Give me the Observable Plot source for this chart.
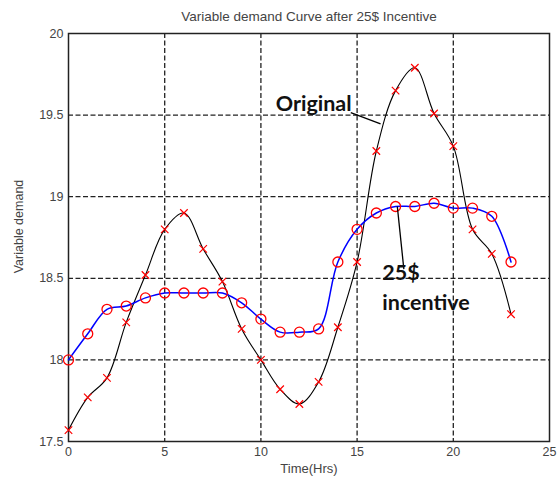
<!DOCTYPE html>
<html>
<head>
<meta charset="utf-8">
<script src="https://cdn.jsdelivr.net/npm/d3@7"></script>
<script src="https://cdn.jsdelivr.net/npm/@observablehq/plot@0.6"></script>
<style>
  html, body { margin: 0; padding: 0; background: #fff; }
  #chart svg { display: block; }
</style>
</head>
<body>
<div id="chart"></div>
<script>
const hours = d3.range(0, 24);
const originalDemand = [17.57, 17.77, 17.89, 18.23, 18.52, 18.80, 18.90, 18.68, 18.48, 18.19,
  18.00, 17.82, 17.73, 17.865, 18.20, 18.60, 19.28, 19.65, 19.79, 19.51,
  19.31, 18.80, 18.65, 18.28];
const incentiveDemand = [18.00, 18.16, 18.31, 18.33, 18.38, 18.41, 18.41, 18.41, 18.41, 18.35,
  18.25, 18.17, 18.17, 18.19, 18.60, 18.80, 18.90, 18.94, 18.94, 18.96,
  18.93, 18.93, 18.88, 18.60];
const xTicks = [0, 5, 10, 15, 20, 25];
const yTicks = [17.5, 18, 18.5, 19, 19.5, 20];
const titleText = "Variable demand Curve after 25$ Incentive";
const xLabel = "Time(Hrs)";
const yLabel = "Variable demand";
const annotationLabels = ["Original", "25$", "incentive"];
const annotationX = [10.77, 16.31, 16.31];
const annotationY = [19.565, 18.53, 18.35];
const leaderFromX = [14.67, 17.09];
const leaderFromY = [19.515, 18.94];
const leaderToX = [16.22, 17.43];
const leaderToY = [19.446, 18.556];

const orig = hours.map((h, i) => ({h, v: originalDemand[i]}));
const inc = hours.map((h, i) => ({h, v: incentiveDemand[i]}));
const notes = annotationLabels.map((t, i) => ({t, x: annotationX[i], y: annotationY[i]}));
const leaders = leaderFromX.map((x1, i) => ({x1, y1: leaderFromY[i], x2: leaderToX[i], y2: leaderToY[i]}));

const chart = Plot.plot({
  width: 557,
  height: 479,
  marginLeft: 68,
  marginRight: 8,
  marginTop: 33,
  marginBottom: 38,
  style: {fontFamily: "'Liberation Sans', Arial, sans-serif", fontSize: "12.5px", color: "#444", background: "#fff"},
  x: {domain: [0, 25], ticks: xTicks, tickSize: 0, tickPadding: 6, label: null},
  y: {domain: [17.5, 20], ticks: yTicks, tickSize: 0, tickPadding: 5, label: null, tickFormat: d => String(d)},
  marks: [
    Plot.gridX(xTicks.slice(1, -1), {stroke: "#222", strokeOpacity: 1, strokeDasharray: "5,2.5", strokeWidth: 1.3}),
    Plot.gridY(yTicks.slice(1, -1), {stroke: "#222", strokeOpacity: 1, strokeDasharray: "5,2.5", strokeWidth: 1.3}),
    Plot.axisX({ticks: xTicks, tickSize: 0, tickPadding: 6, fill: "#444", fontSize: 12.5}),
    Plot.axisY({ticks: yTicks, tickSize: 0, tickPadding: 5, fill: "#444", fontSize: 12.5, tickFormat: d => String(d)}),
    Plot.frame({stroke: "#222", strokeWidth: 1.5}),
    Plot.line(orig, {x: "h", y: "v", curve: "catmull-rom", stroke: "#000", strokeWidth: 1.1}),
    Plot.line(inc, {x: "h", y: "v", curve: "catmull-rom", stroke: "#0000ff", strokeWidth: 1.5}),
    Plot.dot(orig, {x: "h", y: "v", symbol: "times", r: 3.5, stroke: "#ff0000", strokeWidth: 1.2}),
    Plot.dot(inc, {x: "h", y: "v", symbol: "circle", r: 5, stroke: "#ff0000", fill: "none", strokeWidth: 1.3}),
    Plot.link(leaders, {x1: "x1", y1: "y1", x2: "x2", y2: "y2", stroke: "#000", strokeWidth: 1.3}),
    Plot.text(notes, {x: "x", y: "y", text: "t", textAnchor: "start", lineAnchor: "middle",
      fontFamily: "Lato, 'Open Sans', sans-serif", fontWeight: "bold", fontSize: 21.5, fill: "#111"}),
    Plot.text([titleText], {frameAnchor: "top", dy: -17, fontSize: 13.5, fill: "#444", lineAnchor: "middle"}),
    Plot.text([xLabel], {frameAnchor: "bottom", dy: 27, fontSize: 13, fill: "#444", lineAnchor: "middle"}),
    Plot.text([yLabel], {frameAnchor: "left", textAnchor: "middle", dx: -50, dy: -11, rotate: -90, fontSize: 12.5, fill: "#444", lineAnchor: "middle"})
  ]
});
document.getElementById("chart").appendChild(chart);
</script>
</body>
</html>
